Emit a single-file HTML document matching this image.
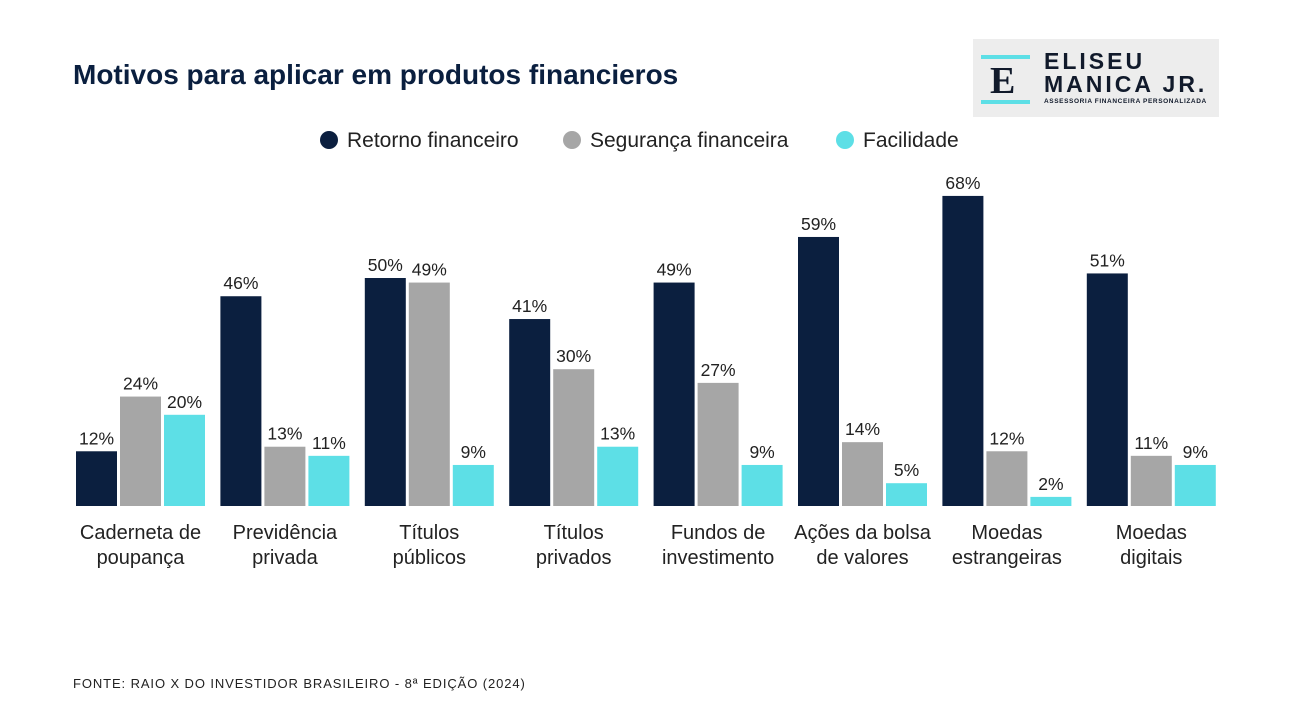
<!DOCTYPE html>
<html><head><meta charset="utf-8"><style>
body{margin:0;width:1292px;height:727px;background:#fff;font-family:"Liberation Sans",sans-serif;overflow:hidden;position:relative}
.t{position:absolute;white-space:nowrap}
</style></head><body>
<div class="t" style="left:73px;top:59px;font-size:28px;font-weight:bold;color:#0a1f3f">Motivos para aplicar em produtos financieros</div>
<div style="position:absolute;left:973px;top:39px;width:246px;height:78px;background:#ededed">
 <div style="position:absolute;left:8px;top:16px;width:49px;height:4px;background:#5ddfe6"></div>
 <div style="position:absolute;left:8px;top:61px;width:49px;height:4px;background:#5ddfe6"></div>
 <div class="t" style="left:17px;top:20px;font-family:'Liberation Serif',serif;font-weight:bold;font-size:38px;color:#111a2b">E</div>
 <div class="t" style="left:71px;top:11px;font-size:23px;font-weight:bold;letter-spacing:3px;color:#111a2b;line-height:23px">ELISEU<br>MANICA JR.</div>
 <div class="t" style="left:71px;top:59px;font-size:6.5px;font-weight:bold;letter-spacing:0.6px;color:#111a2b">ASSESSORIA FINANCEIRA PERSONALIZADA</div>
</div>
<svg id="chart" width="1292" height="727" style="position:absolute;left:0;top:0"></svg>
<div class="t" style="left:73px;top:676px;font-size:13px;letter-spacing:0.9px;color:#222">FONTE: RAIO X DO INVESTIDOR BRASILEIRO - 8ª EDIÇÃO (2024)</div>
<script>
const categories=[["Caderneta de","poupança"],["Previdência","privada"],["Títulos","públicos"],["Títulos","privados"],["Fundos de","investimento"],["Ações da bolsa","de valores"],["Moedas","estrangeiras"],["Moedas","digitais"]];
const retorno=[12,46,50,41,49,59,68,51];
const seguranca=[24,13,49,30,27,14,12,11];
const facilidade=[20,11,9,13,9,5,2,9];
const seriesNames=["Retorno financeiro","Segurança financeira","Facilidade"];
const colors=["#0b1f3f","#a6a6a6","#5ddfe6"];
const series=[retorno,seguranca,facilidade];
const NS="http://www.w3.org/2000/svg";
const svg=document.getElementById('chart');
const base=506,scale=4.56,x0=76,gstep=144.4,bstep=44,bw=41;
const y=v=>base-v*scale;
const gx=(i,s)=>x0+i*gstep+s*bstep;
function mk(tag,attrs,txt){const e=document.createElementNS(NS,tag);for(const k in attrs)e.setAttribute(k,attrs[k]);if(txt!==undefined)e.textContent=txt;svg.appendChild(e);return e;}
series.forEach((arr,s)=>arr.forEach((v,i)=>{
 const r=mk('rect',{x:gx(i,s),y:y(v),width:bw,height:v*scale,fill:colors[s]});
 
 
 const t=mk('text',{x:gx(i,s)+bw/2,y:y(v)-7,'text-anchor':'middle','font-size':17.5,fill:'#222','font-family':'Liberation Sans'},v+'%');
 
 
}));
categories.forEach((c,i)=>{
 c.forEach((line,j)=>{
  const t=mk('text',{x:gx(i,1)+bw/2,y:539+j*25,'text-anchor':'middle','font-size':20,fill:'#222','font-family':'Liberation Sans'},line);
  
  
 });
});
const lx=[320,563,836];
seriesNames.forEach((n,s)=>{
 const c=mk('circle',{cx:lx[s]+9,cy:140,r:9,fill:colors[s]});
 
 
 const t=mk('text',{x:lx[s]+27,y:147,'font-size':21,fill:'#222','font-family':'Liberation Sans'},n);
 
 
});
</script>
</body></html>
